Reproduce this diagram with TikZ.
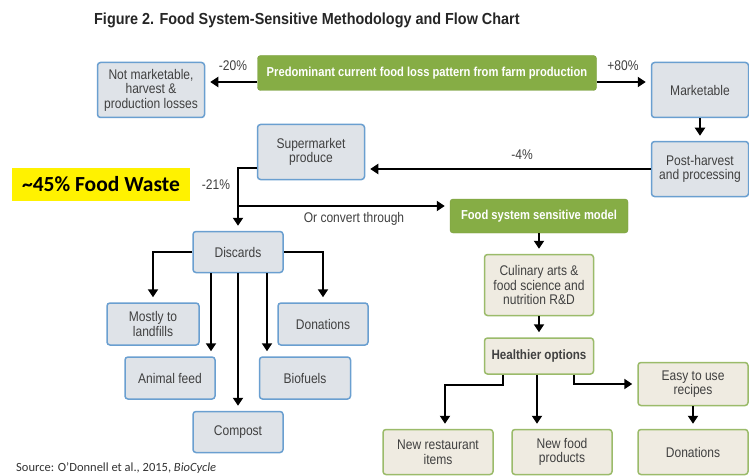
\documentclass[tikz,border=0pt]{standalone}
\usepackage{fontspec}
\usepackage{tikz}
\usetikzlibrary{arrows.meta}
\newfontfamily\nar[FakeStretch=0.86]{Liberation Sans}
\newfontfamily\tnar[FakeStretch=0.9]{Liberation Sans}
\newfontfamily\carl{Carlito}
\definecolor{boxblue}{RGB}{106,159,208}
\definecolor{boxgray}{RGB}{223,227,232}
\definecolor{leaf}{RGB}{134,173,69}
\definecolor{tan}{RGB}{239,235,225}
\definecolor{tanline}{RGB}{155,187,106}
\definecolor{ink}{RGB}{64,64,64}

\begin{document}
\begin{tikzpicture}[x=1pt, y=-1pt]
        \tikzstyle{every node}=[inner sep=0pt, text=ink, font=\nar\fontsize{14}{14.5}\selectfont, align=center]
        \tikzstyle{gbox}=[draw=boxblue, fill=boxgray, line width=1.5pt, rounded corners=3pt]
        \tikzstyle{lbox}=[draw=leaf!90!black, fill=leaf, rounded corners=3pt, text=white, font=\nar\bfseries\fontsize{13}{15}\selectfont]
        \tikzstyle{tbox}=[draw=tanline, fill=tan, line width=1.5pt, rounded corners=3pt]
        \tikzstyle{arr}=[line width=2.3pt, -{Triangle[width=10pt,length=8pt]}, shorten >=5pt]
        \tikzstyle{pct}=[font=\nar\fontsize{14}{14.5}\selectfont]

        \useasboundingbox (0,0) rectangle (749,476);
        \fill[white] (0,0) rectangle (749,476);

        \node (title) [anchor=west, text=black!85, font=\tnar\bfseries\fontsize{16}{18}\selectfont] at (94,20) {Figure 2. Food System-Sensitive Methodology and Flow Chart};

        \node (crop)  [lbox, minimum width=339pt, minimum height=35pt] at (427,73) {Predominant current food loss pattern from farm production};
        \node (notm)  [gbox, minimum width=107pt, minimum height=55pt] at (151,90) {Not marketable,\\harvest \&\\production losses};
        \node (mkt)   [gbox, minimum width=97pt, minimum height=55pt] at (700,90) {Marketable};
        \node (post)  [gbox, minimum width=97pt, minimum height=55pt] at (700,169) {Post-harvest\\and processing};
        \node (sup)   [gbox, minimum width=107pt, minimum height=55pt] at (311,152) {Supermarket\\produce};
        \node (model) [lbox, minimum width=178pt, minimum height=34pt] at (539,216) {Food system sensitive model};

        \node (disc)  [gbox, minimum width=90pt, minimum height=41pt] at (238,252) {Discards};
        \node (land)  [gbox, minimum width=92pt, minimum height=42pt] at (153,324) {Mostly to\\landfills};
        \node (don1)  [gbox, minimum width=90pt, minimum height=42pt] at (323,324) {Donations};
        \node (feed)  [gbox, minimum width=90pt, minimum height=42pt] at (170,378) {Animal feed};
        \node (bio)   [gbox, minimum width=91pt, minimum height=42pt] at (305,378) {Biofuels};
        \node (comp)  [gbox, minimum width=90pt, minimum height=41pt] at (238,432) {Compost};

        \node (cul)   [tbox, minimum width=109pt, minimum height=61pt] at (539,285) {Culinary arts \&\\food science and\\nutrition R\&D};
        \node (hlth)  [tbox, minimum width=109pt, minimum height=36pt, font=\nar\bfseries\fontsize{13.5}{14.5}\selectfont] at (539,356) {Healthier options};
        \node (rec)   [tbox, minimum width=110pt, minimum height=43pt] at (693,384) {Easy to use\\recipes};
        \node (rest)  [tbox, minimum width=110pt, minimum height=45pt] at (438,452) {New restaurant\\items};
        \node (prod)  [tbox, minimum width=100pt, minimum height=45pt] at (562,452) {New food\\products};
        \node (don2)  [tbox, minimum width=110pt, minimum height=45pt] at (693,452) {Donations};

        \node (waste) [fill=yellow, text=black, minimum width=178pt, minimum height=33pt, font=\carl\bfseries\fontsize{21.5}{24}\selectfont] at (101,184) {\textasciitilde45\% Food Waste};
        \node (src)   [anchor=west, text=black!80, font=\carl\fontsize{12.5}{14}\selectfont] at (16,468) {Source: O’Donnell et al., 2015, \textit{BioCycle}};

        \draw[arr] ([yshift=-9pt]crop.west) -- ([yshift=-9pt]crop.west -| notm.east);
        \draw[arr] ([yshift=-9pt]crop.east) -- ([yshift=-9pt]crop.east -| mkt.west);
        \draw[arr] (mkt.south) -- (post.north);
        \draw[arr] (post.west) -- (post.west -| sup.east);
        \draw[arr] ([yshift=-16pt]sup.west) -| (disc.north);
        \coordinate (split) at (238,206);
        \draw[arr] (split) -- (split -| model.west);
        \node (p20) [pct] at (233,66) {-20\%};
        \node (p80) [pct] at (623,66) {+80\%};
        \node (p4)  [pct] at (522,155) {-4\%};
        \node (p21) [pct] at (216,185) {-21\%};
        \node (conv) [pct] at (354,219) {Or convert through};

        \draw[arr] (disc.west) -| (land.north);
        \draw[arr] (disc.east) -| (don1.north);
        \draw[arr] ([xshift=-27pt]disc.south) -- ([xshift=-27pt]disc.south |- feed.north);
        \draw[arr] ([xshift=29pt]disc.south) -- ([xshift=29pt]disc.south |- bio.north);
        \draw[arr] (disc.south) -- (comp.north);

        \draw[arr] (model.south) -- (cul.north);
        \draw[arr] (cul.south) -- (hlth.north);
        \draw[arr] ([xshift=-36pt]hlth.south) -- ++(0,10) -| ([xshift=7pt]rest.north);
        \draw[arr] ([xshift=-2pt]hlth.south) -- ([xshift=-2pt]hlth.south |- prod.north);
        \draw[arr] ([xshift=35pt]hlth.south) |- (rec.west);
        \draw[arr] (rec.south) -- (don2.north);
\end{tikzpicture}
\end{document}
